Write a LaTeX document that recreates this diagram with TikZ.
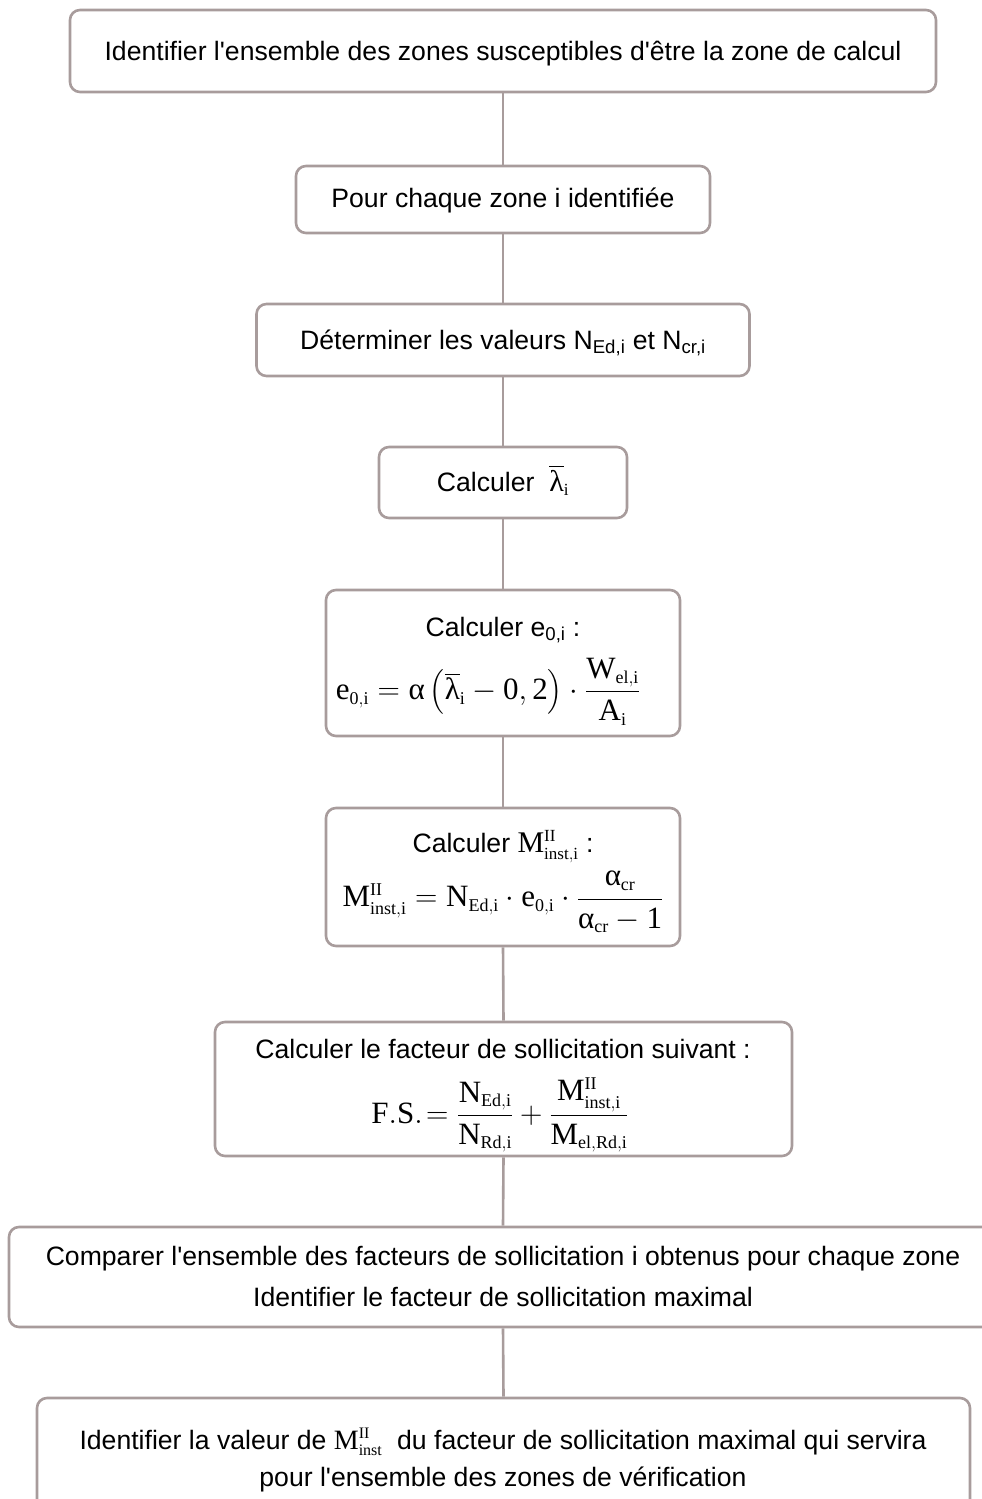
\documentclass[tikz,border=0pt]{standalone}
\usepackage{fix-cm}
\usepackage{amsmath}
\usepackage{fontspec}
\setmainfont{Liberation Sans}
\setmathrm{Liberation Serif}
\newfontfamily\tms{Liberation Serif}
\DeclareMathSizes{31}{31}{18}{13}
\DeclareMathSizes{30}{30}{17}{13}
\DeclareMathSizes{28}{28}{16}{12}
\definecolor{lc}{RGB}{168,156,156}
\newcommand\grk[1]{\text{\tms #1}}
\newcommand\ap{\textquotesingle}
\begin{document}
\begin{tikzpicture}[x=1pt,y=-1pt,
  box/.style={draw=lc, line width=2.6pt, rounded corners=10pt, fill=white, inner sep=0pt},
  txt/.style={font=\fontsize{26.6}{32}\selectfont, inner sep=0pt, anchor=base},
  eq/.style={font=\fontsize{31}{37}\selectfont, inner sep=0pt, anchor=center},
  conn/.style={draw=lc, line width=2.6pt}]
\useasboundingbox (0,0) rectangle (982,1499);
\clip (0,0) rectangle (982,1499);
% boxes
\node[box, minimum width=866pt, minimum height=82pt] (b1) at (503,51) {};
\node[box, minimum width=414pt, minimum height=67pt] (b2) at (503,199.5) {};
\node[box, minimum width=493pt, minimum height=72pt] (b3) at (503,340) {};
\node[box, minimum width=248pt, minimum height=71pt] (b4) at (503,482.5) {};
\node[box, minimum width=354pt, minimum height=146pt] (b5) at (503,663) {};
\node[box, minimum width=354pt, minimum height=138pt] (b6) at (503,877) {};
\node[box, minimum width=577pt, minimum height=134pt] (b7) at (503.5,1089) {};
\node[box, minimum width=988pt, minimum height=100pt] (b8) at (503,1277) {};
\node[box, minimum width=933pt, minimum height=117pt] (b9) at (503.5,1456.5) {};
% connectors
\draw[conn] (b1.south) -- (b2.north);
\draw[conn] (b2.south) -- (b3.north);
\draw[conn] (b3.south) -- (b4.north);
\draw[conn] (b4.south) -- (b5.north);
\draw[conn] (b5.south) -- (b6.north);
\draw[conn] (b6.south) -- (b7.north);
\draw[conn] (b7.south) -- (b8.north);
\draw[conn] (b8.south) -- (b9.north);
% texts
\node[txt] (t1) at (503,60) {Identifier l\ap ensemble des zones susceptibles d\ap être la zone de calcul};
\node[txt] (t2) at (503,207) {Pour chaque zone i identifiée};
\node[txt] (t3) at (503,349) {Déterminer les valeurs N\textsubscript{Ed,i} et N\textsubscript{cr,i}};
\node[txt] (t4) at (503,491) {Calculer \ {\fontsize{30}{36}\selectfont$\overline{\grk{λ}}_{\mathrm{i}}$}};
\node[txt] (t5a) at (503,636) {Calculer e\textsubscript{0,i} :};
\node[eq] (t5b) at (488,692) {$\mathrm{e}_{\mathrm{0,i}} = \grk{α}\left(\overline{\grk{λ}}_{\mathrm{i}} - \mathrm{0,2}\right)\cdot\dfrac{\mathrm{W}_{\mathrm{el,i}}}{\mathrm{A}_{\mathrm{i}}}$};
\node[txt] (t6a) at (503,852) {Calculer {\fontsize{30}{36}\selectfont$\mathrm{M}^{\mathrm{II}}_{\mathrm{inst,i}}$} :};
\node[eq] (t6b) at (503,902) {$\mathrm{M}^{\mathrm{II}}_{\mathrm{inst,i}} = \mathrm{N}_{\mathrm{Ed,i}}\cdot\mathrm{e}_{\mathrm{0,i}}\cdot\dfrac{\grk{α}_{\mathrm{cr}}}{\grk{α}_{\mathrm{cr}}-\mathrm{1}}$};
\node[txt] (t7a) at (503,1058) {Calculer le facteur de sollicitation suivant :};
\node[eq] (t7b) at (500,1115) {$\mathrm{F.S.}\!=\dfrac{\mathrm{N}_{\mathrm{Ed,i}}}{\mathrm{N}_{\mathrm{Rd,i}}}+\dfrac{\mathrm{M}^{\mathrm{II}}_{\mathrm{inst,i}}}{\mathrm{M}_{\mathrm{el,Rd,i}}}$};
\node[txt] (t8a) at (503,1265) {Comparer l\ap ensemble des facteurs de sollicitation i obtenus pour chaque zone};
\node[txt] (t8b) at (503,1306) {Identifier le facteur de sollicitation maximal};
\node[txt] (t9a) at (503,1449) {Identifier la valeur de {\fontsize{28}{34}\selectfont$\mathrm{M}^{\mathrm{II}}_{\mathrm{inst}}$}\ \ du facteur de sollicitation maximal qui servira};
\node[txt] (t9b) at (503,1486) {pour l\ap ensemble des zones de vérification};
\end{tikzpicture}
\end{document}
